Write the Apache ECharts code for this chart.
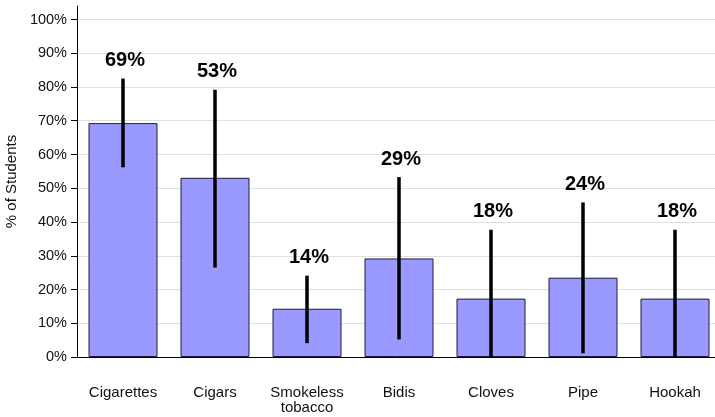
<!DOCTYPE html>
<html>
<head>
<meta charset="utf-8">
<script src="https://cdn.jsdelivr.net/npm/echarts@6/dist/echarts.min.js"></script>
<style>
html,body{margin:0;padding:0;background:#fff;}
#chart{width:715px;height:417px;}
</style>
</head>
<body>
<div id="chart"></div>
<script>
var categories = ['Cigarettes', 'Cigars', 'Smokeless\ntobacco', 'Bidis', 'Cloves', 'Pipe', 'Hookah'];
var values = [69.3, 53.1, 14.3, 29.2, 17.3, 23.5, 17.3];
var labels = ['69%', '53%', '14%', '29%', '18%', '24%', '18%'];
var errLow = [56.2, 26.5, 4.1, 5.2, 0, 1.1, 0];
var errHigh = [82.5, 79.2, 24.1, 53.3, 37.7, 45.8, 37.7];
var yTicks = [0, 10, 20, 30, 40, 50, 60, 70, 80, 90, 100];

var errData = categories.map(function (c, i) { return [i, errLow[i], errHigh[i], labels[i]]; });
var FONT = '"Liberation Sans", Arial, sans-serif';

var chart = echarts.init(document.getElementById('chart'), null, {renderer: 'canvas'});
chart.setOption({
  animation: false,
  backgroundColor: '#ffffff',
  grid: {left: 77, right: -6, top: 6, bottom: 60, containLabel: false, outerBoundsMode: 'none'},
  xAxis: {
    type: 'category',
    data: categories,
    axisLine: {lineStyle: {color: '#000', width: 1}},
    axisTick: {show: false},
    axisLabel: {margin: 28, color: '#111', fontFamily: FONT, fontSize: 15, lineHeight: 15, interval: 0}
  },
  yAxis: {
    type: 'value',
    min: 0, max: 104, interval: 10,
    name: '% of Students',
    nameLocation: 'middle',
    nameGap: 55,
    nameTextStyle: {color: '#111', fontFamily: FONT, fontSize: 15},
    axisLine: {show: true, lineStyle: {color: '#000', width: 1}},
    axisTick: {show: true, length: 6, lineStyle: {color: '#000'}},
    axisLabel: {
      margin: 10, color: '#111', fontFamily: FONT, fontSize: 14.5, showMaxLabel: false,
      formatter: function (v) { return yTicks.indexOf(v) >= 0 ? v + '%' : ''; }
    },
    splitLine: {show: true, showMaxLine: false, lineStyle: {color: '#e0e0e0', width: 1}}
  },
  series: [
    {
      type: 'bar',
      data: values,
      barWidth: 69,
      itemStyle: {color: '#9999ff', borderColor: '#1c1c3c', borderWidth: 1}
    },
    {
      type: 'custom',
      data: errData,
      encode: {x: 0, y: [1, 2]},
      z: 10,
      renderItem: function (params, api) {
        var lo = api.coord([api.value(0), api.value(1)]);
        var hi = api.coord([api.value(0), api.value(2)]);
        return {
          type: 'group',
          children: [
            {type: 'line', shape: {x1: lo[0], y1: lo[1], x2: hi[0], y2: hi[1]},
             style: {stroke: '#000', lineWidth: 3.5}},
            {type: 'text', x: hi[0] + 2, y: hi[1] - 8,
             style: {text: labels[params.dataIndex], textAlign: 'center', textVerticalAlign: 'bottom',
                     font: 'bold 20px ' + FONT, fill: '#000'}}
          ]
        };
      }
    }
  ]
});
</script>
</body>
</html>
